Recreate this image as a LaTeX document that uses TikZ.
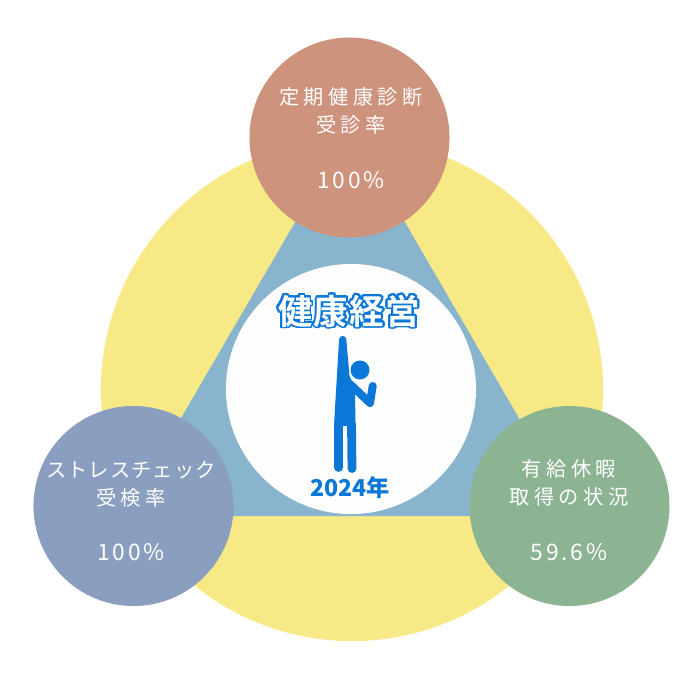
\documentclass[tikz,border=0pt]{standalone}
\usepackage{fontspec}
\usepackage{contour}
\newfontfamily\jp{Noto Sans CJK JP}
\newfontfamily\jpsp{Noto Sans CJK JP}[LetterSpace=22]
\newfontfamily\jpnum{Noto Sans CJK JP}[LetterSpace=12]
\newfontfamily\jplogo{Noto Sans CJK JP Bold}[LetterSpace=4]
\definecolor{ringyellow}{HTML}{F7EA86}
\definecolor{triblue}{HTML}{88B4CD}
\definecolor{hubwhite}{HTML}{FDFDFD}
\definecolor{checkupred}{HTML}{CE937D}
\definecolor{stressblue}{HTML}{8A9EBF}
\definecolor{leavegreen}{HTML}{8CB493}
\definecolor{logoblue}{HTML}{0B78D8}
\contourlength{1.3pt}
\contournumber{32}
\tikzset{
  bubble/.style={circle, minimum size=5cm, inner sep=0pt},
  caption/.style={text=white, align=center, font=\jpsp\fontsize{14.4pt}{19.8pt}\selectfont},
  value/.style={text=white, font=\jpnum\fontsize{16.2pt}{18pt}\selectfont},
}
\begin{document}
\begin{tikzpicture}[x=0.025cm, y=-0.025cm]
                \useasboundingbox (0, 0) rectangle (700, 700);
                \node [circle, fill=ringyellow, minimum size=12.55cm] (ring) at (352, 390) {};
                \coordinate (apex) at (350, 128);
                \coordinate (leftc) at (124, 516);
                \coordinate (rightc) at (576, 516);
                \fill [triblue] (apex) -- (leftc) -- (rightc) -- cycle;
                \node [circle, fill=hubwhite, minimum size=6.25cm] (hub) at (351, 389) {};
                \node [bubble, fill=checkupred] (checkup) at (349.5, 137.5) {};
                \node [bubble, fill=stressblue] (stress) at (133.5, 506) {};
                \node [bubble, fill=leavegreen] (leave) at (569.5, 506) {};
                \node [caption] (checkuptxt) at (351, 111) {定期健康診断\\受診率};
                \node [value] (checkupval) at (351, 180) {100\%};
                \node [caption] (stresstxt) at (131, 484) {{\addfontfeature{LetterSpace=5}ストレスチェック}\\受検率};
                \node [value] (stressval) at (131, 552) {100\%};
                \node [caption] (leavetxt) at (569, 482.5) {有給休暇\\取得の状況};
                \node [value] (leaveval) at (569, 552) {59.6\%};
                \node [text=white, font=\jplogo\fontsize{24.5pt}{26pt}\selectfont] (logo) at (349, 312) {\contour{logoblue}{健康経営}};
                \node [text=logoblue, font=\jp\bfseries\fontsize{16.5pt}{18pt}\selectfont] (year) at (350, 488) {2024年};
                \fill [logoblue] (360, 370) circle (9.5);
                \fill [logoblue] (342.7, 339.5) circle (3.6);
                \fill [logoblue] (339.1, 339.5) -- (346.3, 339.5) -- (349.5, 376) -- (355, 388) -- (355.5, 426) -- (334, 426) -- (335.5, 400) -- cycle;
                \draw [logoblue, line width=2mm, line cap=round, line join=round] (350, 384) -- (370, 403) -- (372.7, 386);
                \draw [logoblue, line width=2.2mm, line cap=round] (338.5, 424) -- (338.5, 467.5);
                \draw [logoblue, line width=2.2mm, line cap=round] (351.5, 424) -- (352, 468.5);
            \end{tikzpicture}
\end{document}
